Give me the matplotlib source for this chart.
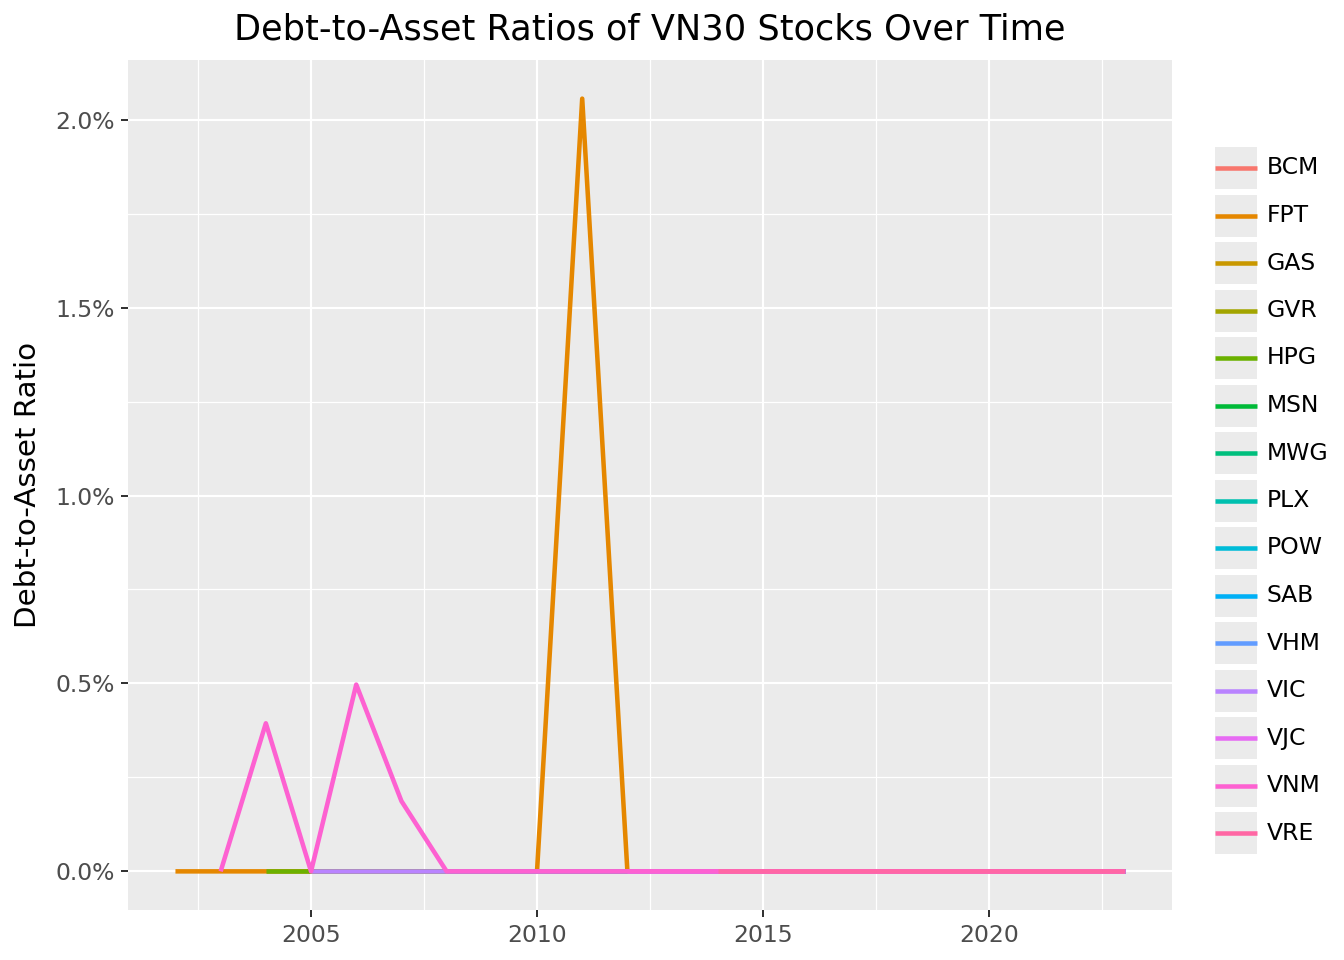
import matplotlib
matplotlib.use("Agg")
import matplotlib.pyplot as plt
from matplotlib.patches import Rectangle
from matplotlib.ticker import PercentFormatter, MultipleLocator

# tickers in legend order (drawn in this order, later ones on top)
tickers = ["BCM", "FPT", "GAS", "GVR", "HPG", "MSN", "MWG", "PLX",
           "POW", "SAB", "VHM", "VIC", "VJC", "VNM", "VRE"]
colors = ["#F8766D", "#E58700", "#C99800", "#A3A500", "#6BB100",
          "#00BA38", "#00BF7D", "#00C0AF", "#00BCD8", "#00B0F6",
          "#619CFF", "#B983FF", "#E76BF3", "#FD61D1", "#FF67A4"]

# first year of data for each ticker (all run to 2023)
start_year = {"BCM": 2010, "FPT": 2002, "GAS": 2009, "GVR": 2015, "HPG": 2004,
              "MSN": 2008, "MWG": 2012, "PLX": 2014, "POW": 2016, "SAB": 2014,
              "VHM": 2016, "VIC": 2005, "VJC": 2012, "VNM": 2003, "VRE": 2014}
last_year = 2023

# non-zero debt-to-asset ratios (fraction)
nonzero = {
    "FPT": {2011: 0.02056},
    "VNM": {2004: 0.00394, 2006: 0.00497, 2007: 0.00187},
}

fig = plt.figure(figsize=(7, 5), dpi=192)
W, H = 1344, 960
ax = fig.add_axes([128 / W, 50 / H, 1044 / W, 850 / H])
ax.set_facecolor("#EBEBEB")
for s in ax.spines.values():
    s.set_visible(False)

for t, c in zip(tickers, colors):
    years = list(range(start_year[t], last_year + 1))
    vals = [nonzero.get(t, {}).get(y, 0.0) for y in years]
    ax.plot(years, vals, color=c, linewidth=1.7, solid_capstyle="butt", zorder=3)

ax.set_xlim(2000.95, 2024.05)
ax.set_ylim(-0.001028, 0.021588)
ax.xaxis.set_major_locator(MultipleLocator(5))
ax.xaxis.set_minor_locator(MultipleLocator(2.5))
ax.yaxis.set_major_locator(MultipleLocator(0.005))
ax.yaxis.set_minor_locator(MultipleLocator(0.0025))
ax.yaxis.set_major_formatter(PercentFormatter(xmax=1, decimals=1))
ax.grid(which="major", color="white", linewidth=0.8, zorder=1)
ax.grid(which="minor", color="white", linewidth=0.45, zorder=1)
ax.set_axisbelow(True)
ax.tick_params(which="major", length=2.6, width=0.75, color="#333333",
               labelcolor="#4D4D4D", labelsize=8.8, pad=2.5)
ax.tick_params(which="minor", length=0)

ax.set_ylabel("Debt-to-Asset Ratio", fontsize=11, labelpad=5)
fig.text(650 / W, 1 - 30 / H, "Debt-to-Asset Ratios of VN30 Stocks Over Time",
         ha="center", va="center", fontsize=13.2)

# legend: gray key boxes with a short coloured line
lax = fig.add_axes([0, 0, 1, 1], facecolor="none")
lax.set_xlim(0, W)
lax.set_ylim(H, 0)
lax.axis("off")
for i, (t, c) in enumerate(zip(tickers, colors)):
    yc = 168 + i * 47.5
    lax.add_patch(Rectangle((1215, yc - 21), 42, 42, facecolor="#EBEBEB",
                            edgecolor="none"))
    lax.plot([1215, 1257], [yc, yc], color=c, linewidth=1.7,
             solid_capstyle="butt")
    lax.text(1267, yc, t, va="center", ha="left", fontsize=8.8)

fig.savefig("out.png", dpi=192)
